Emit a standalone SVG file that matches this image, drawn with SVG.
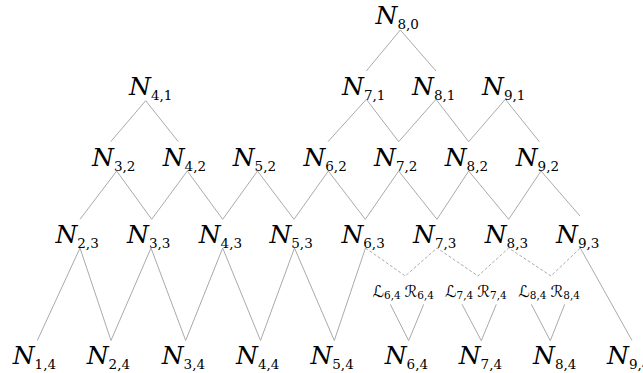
<svg xmlns="http://www.w3.org/2000/svg" width="643" height="373" viewBox="0 0 643 373">
<style>
.n{font-family:"DejaVu Serif","Liberation Serif",serif;font-style:italic;font-size:25px;fill:#000}
.s{font-style:normal;font-size:13.5px}
.m{font-family:"DejaVu Sans","DejaVu Serif",serif;font-size:16px;fill:#000}
.ms{font-family:"DejaVu Serif",serif;font-size:10.5px}
.c line,.c polyline{stroke:#aaaaaa;stroke-width:1;fill:none}
.c .d{stroke-dasharray:3 2}
</style>
<rect width="643" height="373" fill="#fff"/>
<g class="c" id="connectors">
<polyline points="366.3,71 400.3,30 436,71"/>
<polyline points="110.7,141.7 145.7,100.7 178.3,141.7"/>
<polyline points="328,141.7 366.3,99.3 398.7,141.7 436,99.3 468.7,141.7 505.3,99.3 539.3,141.7"/>
<polyline points="80,219.3 116.7,171 151.7,219.3 187.3,171 222.7,219.3 257.5,171 294,219.3 328.3,171 365.3,219.3 398.7,171 437,219.3 468.7,171 508.7,219.3 541,171 580,216"/>
<polyline points="37.3,340.5 80,248 111,340.5 151,248 185.7,340.5 222.7,248 260.5,340.5 294.5,248 334.3,340.5 365.5,248"/>
<line x1="580.3" y1="248" x2="632" y2="340.5"/>
<polyline class="d" points="365.5,248 405.3,276 437,248 478,276 508.7,248 551,276 580.3,248"/>
<polyline points="390.3,304.3 408.7,340.7 423.7,304.3"/>
<polyline points="462,304.3 481.3,340.7 496.3,304.3"/>
<polyline points="531.3,304.3 550.3,340.7 564.7,304.3"/>
</g>
<g id="n8_0"><text class="n" x="375.5" y="24">N<tspan class="s" dy="5">8,0</tspan></text></g>
<g id="n4_1"><text class="n" x="129" y="94.5">N<tspan class="s" dy="5">4,1</tspan></text></g>
<g id="n7_1"><text class="n" x="342" y="94.5">N<tspan class="s" dy="5">7,1</tspan></text></g>
<g id="n8_1"><text class="n" x="412" y="94.5">N<tspan class="s" dy="5">8,1</tspan></text></g>
<g id="n9_1"><text class="n" x="482" y="94.5">N<tspan class="s" dy="5">9,1</tspan></text></g>
<g id="n3_2"><text class="n" x="92" y="165.5">N<tspan class="s" dy="5">3,2</tspan></text></g>
<g id="n4_2"><text class="n" x="162.7" y="165.5">N<tspan class="s" dy="5">4,2</tspan></text></g>
<g id="n5_2"><text class="n" x="232.7" y="165.5">N<tspan class="s" dy="5">5,2</tspan></text></g>
<g id="n6_2"><text class="n" x="303.4" y="165.5">N<tspan class="s" dy="5">6,2</tspan></text></g>
<g id="n7_2"><text class="n" x="374" y="165.5">N<tspan class="s" dy="5">7,2</tspan></text></g>
<g id="n8_2"><text class="n" x="444.7" y="165.5">N<tspan class="s" dy="5">8,2</tspan></text></g>
<g id="n9_2"><text class="n" x="515.7" y="165.5">N<tspan class="s" dy="5">9,2</tspan></text></g>
<g id="n2_3"><text class="n" x="55.4" y="243">N<tspan class="s" dy="5">2,3</tspan></text></g>
<g id="n3_3"><text class="n" x="127" y="243">N<tspan class="s" dy="5">3,3</tspan></text></g>
<g id="n4_3"><text class="n" x="198.7" y="243">N<tspan class="s" dy="5">4,3</tspan></text></g>
<g id="n5_3"><text class="n" x="269.4" y="243">N<tspan class="s" dy="5">5,3</tspan></text></g>
<g id="n6_3"><text class="n" x="341.4" y="243">N<tspan class="s" dy="5">6,3</tspan></text></g>
<g id="n7_3"><text class="n" x="413" y="243">N<tspan class="s" dy="5">7,3</tspan></text></g>
<g id="n8_3"><text class="n" x="484.7" y="243">N<tspan class="s" dy="5">8,3</tspan></text></g>
<g id="n9_3"><text class="n" x="556" y="243">N<tspan class="s" dy="5">9,3</tspan></text></g>
<g id="lr6"><text class="m" x="372.5" y="297">ℒ<tspan class="ms" dy="2">6,4</tspan></text><text class="m" x="404.5" y="297">ℛ<tspan class="ms" dy="2">6,4</tspan></text></g>
<g id="lr7"><text class="m" x="445" y="297">ℒ<tspan class="ms" dy="2">7,4</tspan></text><text class="m" x="477.2" y="297">ℛ<tspan class="ms" dy="2">7,4</tspan></text></g>
<g id="lr8"><text class="m" x="518.3" y="297">ℒ<tspan class="ms" dy="2">8,4</tspan></text><text class="m" x="550.5" y="297">ℛ<tspan class="ms" dy="2">8,4</tspan></text></g>
<g id="n1_4"><text class="n" x="12.7" y="364">N<tspan class="s" dy="5">1,4</tspan></text></g>
<g id="n2_4"><text class="n" x="86.7" y="364">N<tspan class="s" dy="5">2,4</tspan></text></g>
<g id="n3_4"><text class="n" x="161.7" y="364">N<tspan class="s" dy="5">3,4</tspan></text></g>
<g id="n4_4"><text class="n" x="236" y="364">N<tspan class="s" dy="5">4,4</tspan></text></g>
<g id="n5_4"><text class="n" x="310.4" y="364">N<tspan class="s" dy="5">5,4</tspan></text></g>
<g id="n6_4"><text class="n" x="384.7" y="364">N<tspan class="s" dy="5">6,4</tspan></text></g>
<g id="n7_4"><text class="n" x="458.7" y="364">N<tspan class="s" dy="5">7,4</tspan></text></g>
<g id="n8_4"><text class="n" x="533" y="364">N<tspan class="s" dy="5">8,4</tspan></text></g>
<g id="n9_4"><text class="n" x="607" y="364">N<tspan class="s" dy="5">9,4</tspan></text></g>
</svg>
